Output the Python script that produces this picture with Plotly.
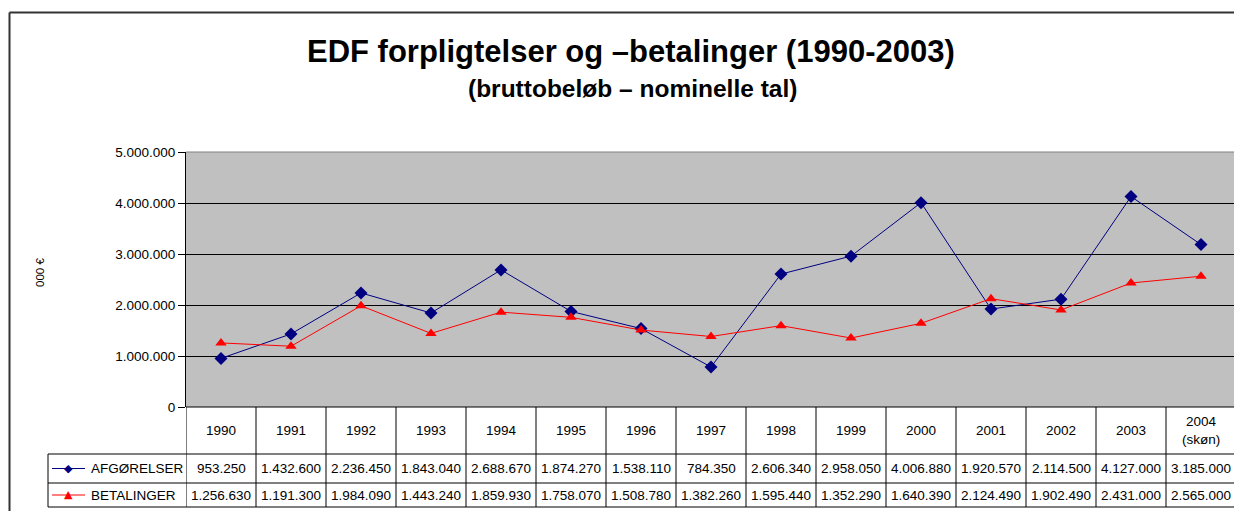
import plotly.graph_objects as go

# ---- data ----
years = ["1990", "1991", "1992", "1993", "1994", "1995", "1996", "1997",
         "1998", "1999", "2000", "2001", "2002", "2003", "2004<br>(skøn)"]
afgorelser = [953250, 1432600, 2236450, 1843040, 2688670, 1874270, 1538110, 784350,
              2606340, 2958050, 4006880, 1920570, 2114500, 4127000, 3185000]
betalinger = [1256630, 1191300, 1984090, 1443240, 1859930, 1758070, 1508780, 1382260,
              1595440, 1352290, 1640390, 2124490, 1902490, 2431000, 2565000]
series_names = ["AFGØRELSER", "BETALINGER"]
y_ticks = [0, 1000000, 2000000, 3000000, 4000000, 5000000]
y_tick_labels = ["0", "1.000.000", "2.000.000", "3.000.000", "4.000.000", "5.000.000"]

W, H = 1234, 511
FONT = "Liberation Sans, Arial, sans-serif"
NAVY = "#000080"
RED = "#FF0000"

def py(pix):  # pixel y (from top) -> paper
    return 1 - pix / H

def px(pix):
    return pix / W

def fmt(v):
    return f"{v:,}".replace(",", ".")

x_idx = list(range(len(years)))

fig = go.Figure()
fig.add_trace(go.Scatter(x=x_idx, y=afgorelser, name=series_names[0], mode="lines+markers",
                         line=dict(color=NAVY, width=1),
                         marker=dict(symbol="diamond", size=10, color=NAVY)))
fig.add_trace(go.Scatter(x=x_idx, y=betalinger, name=series_names[1], mode="lines+markers",
                         line=dict(color=RED, width=1),
                         marker=dict(symbol="triangle-up", size=10, color=RED)))

plot_top, plot_bot = 152, 407
x_left = 186
col_w = 70.0
x_max = -0.5 + (W - x_left) / col_w

fig.update_layout(
    width=W, height=H,
    margin=dict(l=0, r=0, t=0, b=0, pad=0, autoexpand=False),
    paper_bgcolor="white",
    plot_bgcolor="#C0C0C0",
    showlegend=False,
    font=dict(family=FONT, color="black", size=12),
    xaxis=dict(domain=[px(x_left), 1], range=[-0.5, x_max], showticklabels=False,
               showgrid=False, zeroline=False, showline=False, ticks="", automargin=False),
    yaxis=dict(domain=[py(plot_bot), py(plot_top)], range=[0, 5000000],
               tickvals=y_ticks, ticktext=y_tick_labels, ticks="outside", ticklen=7,
               tickcolor="black", tickfont=dict(size=13.5, family=FONT, color="black"),
               showgrid=True, gridcolor="black", gridwidth=1, zeroline=False,
               showline=True, linecolor="black", linewidth=1, automargin=False),
)

fig.add_annotation(text="<b>EDF forpligtelser og –betalinger (1990-2003)</b>",
                   x=px(631), y=py(51), xref="paper", yref="paper", showarrow=False,
                   xanchor="center", yanchor="middle", font=dict(size=31, family=FONT))
fig.add_annotation(text="<b>(bruttobeløb – nominelle tal)</b>",
                   x=px(632), y=py(89), xref="paper", yref="paper", showarrow=False,
                   xanchor="center", yanchor="middle", font=dict(size=24.5, family=FONT))
fig.add_annotation(text="000 €", x=px(32), y=py(273), xref="paper", yref="paper",
                   showarrow=False, textangle=-90, font=dict(size=11.5, family=FONT))

shapes = []
frame = "#333333"
shapes.append(dict(type="line", xref="paper", yref="paper", x0=px(9.5), x1=1.0,
                   y0=py(12.5), y1=py(12.5), line=dict(color=frame, width=2)))
shapes.append(dict(type="line", xref="paper", yref="paper", x0=px(9.5), x1=px(9.5),
                   y0=py(12.5), y1=0, line=dict(color=frame, width=2)))
shapes.append(dict(type="line", xref="x", yref="paper", x0=-0.5, x1=x_max,
                   y0=py(plot_top), y1=py(plot_top), line=dict(color="#808080", width=1)))

hdr_bot, r1_bot, r2_bot = 454, 483, 507
leg_left = 48
shapes.append(dict(type="line", xref="x", yref="paper", x0=-0.5, x1=x_max,
                   y0=py(plot_bot), y1=py(plot_bot), line=dict(color="black", width=1)))
for yy in (hdr_bot, r1_bot, r2_bot):
    shapes.append(dict(type="line", xref="paper", yref="paper", x0=px(leg_left), x1=1.0,
                       y0=py(yy), y1=py(yy), line=dict(color="black", width=1)))
for i in range(len(years) + 1):
    xb = i - 0.5
    shapes.append(dict(type="line", xref="x", yref="paper", x0=xb, x1=xb,
                       y0=py(plot_bot), y1=py(r2_bot), line=dict(color="black", width=1)))
shapes.append(dict(type="line", xref="paper", yref="paper", x0=px(leg_left), x1=px(leg_left),
                   y0=py(hdr_bot), y1=py(r2_bot), line=dict(color="black", width=1)))

for (yy0, yy1), col in (((hdr_bot, r1_bot), NAVY), ((r1_bot, r2_bot), RED)):
    yc = (yy0 + yy1) / 2
    shapes.append(dict(type="line", xref="paper", yref="paper", x0=px(52), x1=px(85),
                       y0=py(yc), y1=py(yc), line=dict(color=col, width=1)))
fig.update_layout(shapes=shapes)

fig.add_annotation(text="◆", x=px(68), y=py((hdr_bot + r1_bot) / 2), xref="paper", yref="paper",
                   showarrow=False, font=dict(size=11, color=NAVY, family="DejaVu Sans"),
                   xanchor="center", yanchor="middle")
fig.add_annotation(text="▲", x=px(68), y=py((r1_bot + r2_bot) / 2 - 1), xref="paper", yref="paper",
                   showarrow=False, font=dict(size=11, color=RED, family="DejaVu Sans"),
                   xanchor="center", yanchor="middle")
for name, (yy0, yy1) in zip(series_names, ((hdr_bot, r1_bot), (r1_bot, r2_bot))):
    fig.add_annotation(text=name, x=px(89), y=py((yy0 + yy1) / 2), xref="paper", yref="paper",
                       showarrow=False, xanchor="left", yanchor="middle",
                       font=dict(size=13.5, family=FONT))

for i, yr in enumerate(years):
    fig.add_annotation(text=yr, x=i, y=py((plot_bot + hdr_bot) / 2), xref="x", yref="paper",
                       showarrow=False, xanchor="center", yanchor="middle",
                       font=dict(size=13.5, family=FONT))
for vals, (yy0, yy1) in ((afgorelser, (hdr_bot, r1_bot)), (betalinger, (r1_bot, r2_bot))):
    for i, v in enumerate(vals):
        fig.add_annotation(text=fmt(v), x=i, y=py((yy0 + yy1) / 2), xref="x", yref="paper",
                           showarrow=False, xanchor="center", yanchor="middle",
                           font=dict(size=13.5, family=FONT))

post = (
    "document.documentElement.style.margin='0';"
    "document.body.style.margin='0';"
    "document.body.style.overflow='hidden';"
)
fig.write_html("out.html", config={"displayModeBar": False}, post_script=post)
